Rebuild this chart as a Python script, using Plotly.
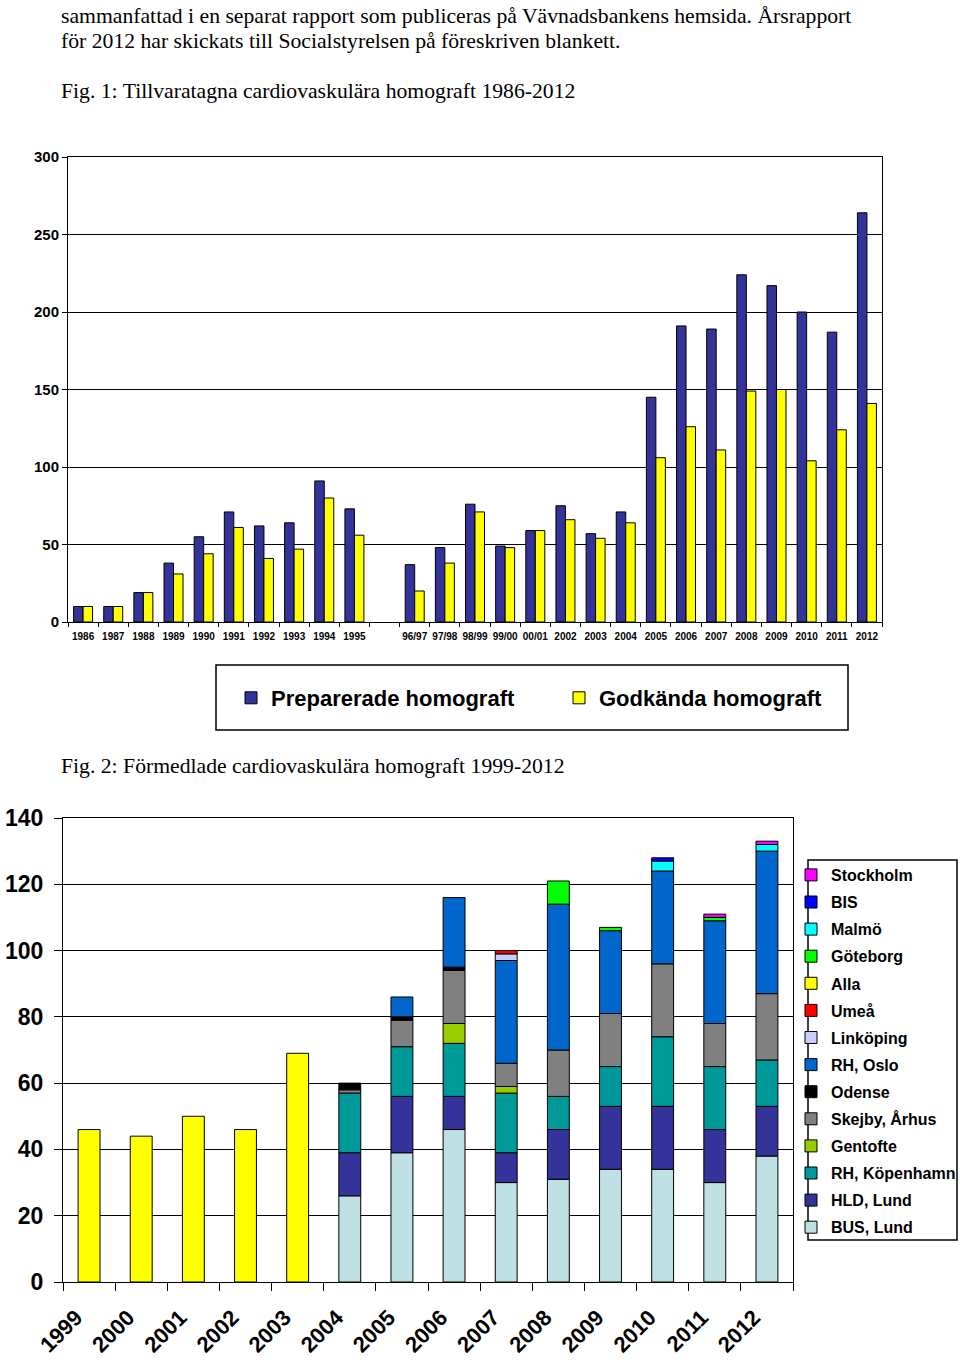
import plotly.graph_objects as go

# ---------------- Figure 1 data ----------------
cats1 = ["1986", "1987", "1988", "1989", "1990", "1991", "1992", "1993", "1994", "1995", " ",
         "96/97", "97/98", "98/99", "99/00", "00/01", "2002", "2003", "2004", "2005", "2006",
         "2007", "2008", "2009", "2010", "2011", "2012"]
preparerade = [10, 10, 19, 38, 55, 71, 62, 64, 91, 73, None,
               37, 48, 76, 49, 59, 75, 57, 71, 145, 191, 189, 224, 217, 200, 187, 264]
godkanda = [10, 10, 19, 31, 44, 61, 41, 47, 80, 56, None,
            20, 38, 71, 48, 59, 66, 54, 64, 106, 126, 111, 149, 150, 104, 124, 141]

# ---------------- Figure 2 data ----------------
years2 = ["1999", "2000", "2001", "2002", "2003", "2004", "2005", "2006",
          "2007", "2008", "2009", "2010", "2011", "2012"]
N = None
bus_lund =      [N, N, N, N, N, 26, 39, 46, 30, 31, 34, 34, 30, 38]
hld_lund =      [N, N, N, N, N, 13, 17, 10, 9, 15, 19, 19, 16, 15]
rh_kopenhamn =  [N, N, N, N, N, 18, 15, 16, 18, 10, 12, 21, 19, 14]
gentofte =      [N, N, N, N, N, N, N, 6, 2, N, N, N, N, N]
skejby_arhus =  [N, N, N, N, N, 1, 8, 16, 7, 14, 16, 22, 13, 20]
odense =        [N, N, N, N, N, 2, 1, 1, N, N, N, N, N, N]
rh_oslo =       [N, N, N, N, N, N, 6, 21, 31, 44, 25, 28, 31, 43]
linkoping =     [N, N, N, N, N, N, N, N, 2, N, N, N, N, N]
umea =          [N, N, N, N, N, N, N, N, 1, N, N, N, N, N]
alla =          [46, 44, 50, 46, 69, N, N, N, N, N, N, N, N, N]
goteborg =      [N, N, N, N, N, N, N, N, N, 7, 1, N, 1, N]
malmo =         [N, N, N, N, N, N, N, N, N, N, N, 3, N, 2]
bis =           [N, N, N, N, N, N, N, N, N, N, N, 1, N, N]
stockholm =     [N, N, N, N, N, N, N, N, N, N, N, N, 1, 1]

series2 = [
    ("BUS, Lund", bus_lund, "#BFE1E3"),
    ("HLD, Lund", hld_lund, "#333399"),
    ("RH, Köpenhamn", rh_kopenhamn, "#009999"),
    ("Gentofte", gentofte, "#99CC00"),
    ("Skejby, Århus", skejby_arhus, "#808080"),
    ("Odense", odense, "#000000"),
    ("RH, Oslo", rh_oslo, "#0066CC"),
    ("Linköping", linkoping, "#CCCCFF"),
    ("Umeå", umea, "#FF0000"),
    ("Alla", alla, "#FFFF00"),
    ("Göteborg", goteborg, "#00FF00"),
    ("Malmö", malmo, "#00FFFF"),
    ("BIS", bis, "#0000FF"),
    ("Stockholm", stockholm, "#FF00FF"),
]

W, H = 960, 1363
SANS = "Liberation Sans, Arial, sans-serif"
SERIF = "Liberation Serif, Times New Roman, serif"

def px(x):
    return x / W

def py(y):
    return 1 - y / H

fig = go.Figure()

fig.add_trace(go.Bar(x=cats1, y=preparerade, name="Preparerade homograft",
                     marker=dict(color="#333399", line=dict(color="black", width=1)),
                     xaxis="x", yaxis="y", legend="legend", offsetgroup="a"))
fig.add_trace(go.Bar(x=cats1, y=godkanda, name="Godkända homograft",
                     marker=dict(color="#FFFF00", line=dict(color="black", width=1)),
                     xaxis="x", yaxis="y", legend="legend", offsetgroup="b"))

for i, (name, vals, col) in enumerate(series2):
    fig.add_trace(go.Bar(x=years2, y=vals, name=name, legendgroup=name,
                         legendrank=1000 - i, width=0.42,
                         marker=dict(color=col, line=dict(color="black", width=1)),
                         xaxis="x2", yaxis="y2", legend="legend2", offsetgroup="s"))

axis_common = dict(showline=True, linecolor="black", linewidth=1, mirror=True,
                   ticks="outside", tickcolor="black", tickwidth=1, automargin=False)

fig.update_layout(
    width=W, height=H, autosize=False,
    margin=dict(l=0, r=0, t=0, b=0, autoexpand=False),
    paper_bgcolor="white", plot_bgcolor="white",
    barmode="relative", bargap=0.37, bargroupgap=0,
    font=dict(family=SANS, color="black"),
    xaxis=dict(domain=[px(68), px(882)], anchor="y", type="category",
               categoryorder="array", categoryarray=cats1, tickson="boundaries",
               ticklen=4, tickangle=0, ticklabelstandoff=5,
               tickfont=dict(size=10, family=SANS, weight="bold"),
               showgrid=False, fixedrange=True, **axis_common),
    yaxis=dict(domain=[py(622), py(157)], anchor="x", range=[0, 300], dtick=50,
               ticklen=5, tickfont=dict(size=15, family=SANS, weight="bold"),
               showgrid=True, gridcolor="black", gridwidth=1, zeroline=False,
               **axis_common),
    xaxis2=dict(domain=[px(63), px(793)], anchor="y2", type="category",
                categoryorder="array", categoryarray=years2, tickson="boundaries",
                ticklen=8, tickangle=-45, ticklabelstandoff=13, ticklabelshift=-13,
                tickfont=dict(size=22, family=SANS, weight="bold"),
                showgrid=False, **axis_common),
    yaxis2=dict(domain=[py(1282), py(818)], anchor="x2", range=[0, 140], dtick=20,
                ticklen=8, ticklabelstandoff=6,
                tickfont=dict(size=23, family=SANS, weight="bold"),
                showgrid=True, gridcolor="black", gridwidth=1, zeroline=False,
                **axis_common),
    legend=dict(orientation="h", x=px(231), xanchor="left", y=py(698), yanchor="middle",
                bgcolor="rgba(0,0,0,0)", borderwidth=0, entrywidth=283,
                font=dict(size=22, family=SANS, weight="bold", color="black")),
    legend2=dict(orientation="v", x=px(791), xanchor="left", y=py(1051.5), yanchor="middle",
                 bgcolor="rgba(0,0,0,0)", borderwidth=0, traceorder="grouped",
                 tracegroupgap=3.3,
                 font=dict(size=16, family=SANS, weight="bold", color="black")),
)

# legend frames
fig.add_shape(type="rect", xref="paper", yref="paper",
              x0=px(216), x1=px(848), y0=py(730), y1=py(665),
              line=dict(color="black", width=1.5), fillcolor="rgba(0,0,0,0)", layer="below")
fig.add_shape(type="rect", xref="paper", yref="paper",
              x0=px(808), x1=px(957), y0=py(1240), y1=py(860),
              line=dict(color="black", width=1.5), fillcolor="rgba(0,0,0,0)", layer="below")

texts = [
    ("sammanfattad i en separat rapport som publiceras på Vävnadsbankens hemsida. Årsrapport", 16),
    ("för 2012 har skickats till Socialstyrelsen på föreskriven blankett.", 41),
    ("Fig. 1: Tillvaratagna cardiovaskulära homograft 1986-2012", 91),
    ("Fig. 2: Förmedlade cardiovaskulära homograft 1999-2012", 766),
]
for t, yy in texts:
    fig.add_annotation(text=t, xref="paper", yref="paper", x=px(59), y=py(yy),
                       xanchor="left", yanchor="middle", showarrow=False,
                       font=dict(family=SERIF, size=21.7, color="black"))

fig.write_html("out.html")
